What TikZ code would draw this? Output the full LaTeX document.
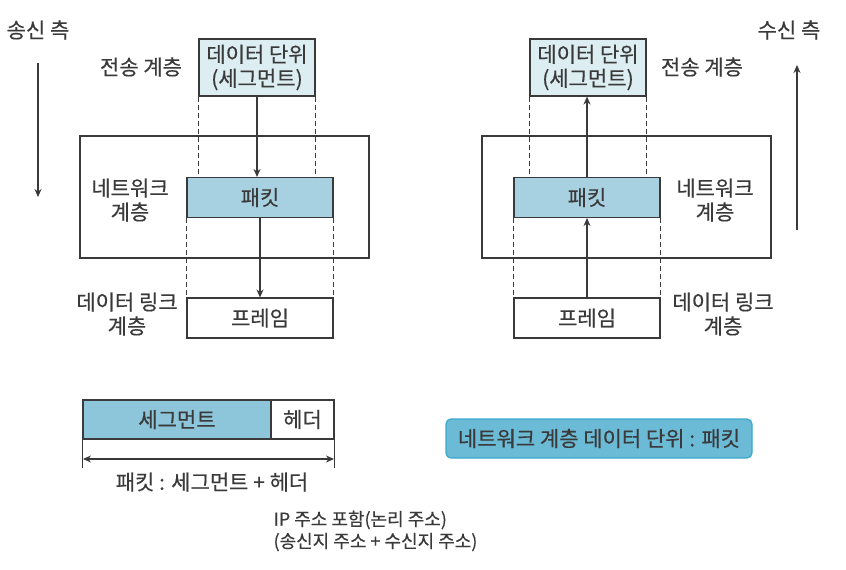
\documentclass[tikz,border=0pt]{standalone}
\usepackage{fontspec}
\setmainfont{Noto Sans CJK KR}[FakeBold=0.4]
\usetikzlibrary{arrows.meta, positioning, shapes}
\definecolor{lineg}{HTML}{3A3A3A}
\definecolor{segblue}{HTML}{DDEEF3}
\definecolor{pktblue}{HTML}{A7D0E0}
\definecolor{barblue}{HTML}{8DC6DA}
\definecolor{notefill}{HTML}{6BBAD6}
\definecolor{noteedge}{HTML}{3AA8CC}

\begin{document}
\begin{tikzpicture}[x=1pt,y=-1pt,
        font=\fontsize{21}{24}\selectfont,text=lineg,
        box/.style={draw=lineg,line width=1.1pt,inner sep=0pt,
            minimum width=146,minimum height=40},
        lbl/.style={align=center},
        arr/.style={draw=lineg,line width=1.1pt,-{Stealth[length=8pt,width=7pt]}},
        dashln/.style={draw=lineg,line width=1.3pt,dash pattern=on 5pt off 3pt}]
        \useasboundingbox (0,0) rectangle (846,570);

        % sending side
        \node[lbl] (sendL) at (38,30) {송신 측};
        \node[lbl] (tlL) at (141,67) {전송 계층};
        \node[lbl] (nlL) at (130,200) {네트워크\\계층};
        \node[lbl] (dlL) at (127,314) {데이터 링크\\계층};
        \node[box,fill=segblue,minimum width=116,minimum height=57,align=center] (topL) at (257,67.5) {데이터 단위\\(세그먼트)};
        \node[box,minimum width=289,minimum height=122] (netL) at (224.5,197) {};
        \node[box,fill=pktblue] (pktL) at (260,197.5) {패킷};
        \node[box] (frmL) at (260,318) {프레임};
        \coordinate (sdA) at (38,63);
        \coordinate (sdB) at (38,197);

        % receiving side
        \node[lbl] (recvR) at (789,30) {수신 측};
        \node[lbl] (tlR) at (702,67) {전송 계층};
        \node[lbl] (nlR) at (715,200) {네트워크\\계층};
        \node[lbl] (dlR) at (723,314) {데이터 링크\\계층};
        \node[box,fill=segblue,minimum width=116,minimum height=57,align=center] (topR) at (588,67.5) {데이터 단위\\(세그먼트)};
        \node[box,minimum width=289,minimum height=122] (netR) at (626.5,197) {};
        \node[box,fill=pktblue] (pktR) at (587,197.5) {패킷};
        \node[box] (frmR) at (587,318) {프레임};
        \coordinate (rvA) at (797,230);
        \coordinate (rvB) at (797,65);

        \foreach \s/\t in {topL.south west/pktL.north, topL.south east/pktL.north,
                pktL.south west/frmL.north, pktL.south east/frmL.north,
                topR.south west/pktR.north, topR.south east/pktR.north,
                pktR.south west/frmR.north, pktR.south east/frmR.north} {
            \path[dashln] (\s) -- (\s |- \t);}

        \draw[arr] (sdA) -- (sdB);
        \draw[arr] (rvA) -- (rvB);
        \draw[arr] (topL.south) -- (topL.south |- pktL.north);
        \draw[arr] (pktL.south) -- (frmL.north);
        \draw[arr] (frmR.north) -- (pktR.south);
        \draw[arr] (pktR.north) -- (pktR.north |- topR.south);

        % packet layout
        \node[box,fill=barblue,minimum width=188,minimum height=39] (seg) at (177,419.5) {세그먼트};
        \node[box,minimum width=63,minimum height=39] (hdr) at (302.5,419.5) {헤더};
        \coordinate (pkA) at (83,459);
        \coordinate (pkB) at (334,459);
        \draw[draw=lineg,line width=1.1pt] (seg.south west) -- ++(0,28);
        \draw[draw=lineg,line width=1.1pt] (hdr.south east) -- ++(0,28);
        \draw[arr,{Stealth[length=8pt,width=7pt]}-{Stealth[length=8pt,width=7pt]}] (pkA) -- (pkB);
        \node[lbl] (pktsum) at (212,482) {패킷 : 세그먼트 + 헤더};
        \node[anchor=west,align=left,font=\fontsize{18}{22}\selectfont] (ipnote) at (270,531) {IP 주소 포함(논리 주소)\\(송신지 주소 + 수신지 주소)};

        \node[draw=noteedge,fill=notefill,line width=1.2pt,rounded corners=5pt,
            minimum width=306,minimum height=39] (unit) at (599,438.5) {네트워크 계층 데이터 단위 : 패킷};
\end{tikzpicture}
\end{document}
